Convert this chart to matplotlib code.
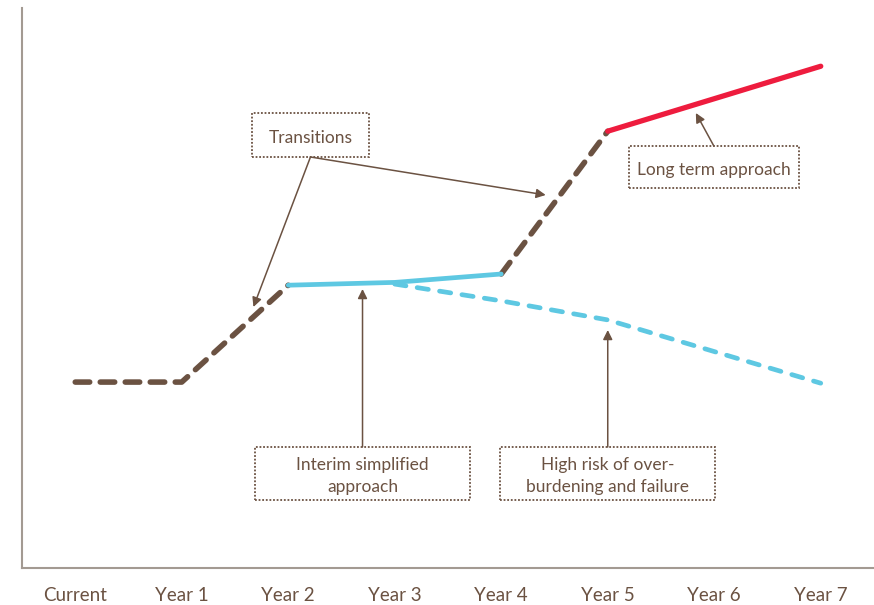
import matplotlib
matplotlib.use('Agg')
import matplotlib.pyplot as plt
from matplotlib.patches import Rectangle

brown = '#6b5242'
blue = '#5ec8e2'
red = '#ee1c3e'
spine_col = '#a39a92'

categories = ['Current', 'Year 1', 'Year 2', 'Year 3', 'Year 4', 'Year 5', 'Year 6', 'Year 7']

# transitions (brown dashed)
trans1_x = [0, 1, 2]
trans1_y = [33.2, 33.2, 50.5]
trans2_x = [4, 5]
trans2_y = [52.5, 78.0]
# interim simplified approach (blue solid)
interim_x = [2, 3, 4]
interim_y = [50.5, 51.0, 52.5]
# high risk path (blue dashed)
risk_x = [3, 4, 5, 7]
risk_y = [50.7, 47.7, 44.3, 33.0]
# long term approach (red)
long_x = [5, 7]
long_y = [78.0, 89.6]

plt.rcParams['font.family'] = ['Lato', 'DejaVu Sans']

fig = plt.figure(figsize=(8.74, 6.05), dpi=100)
ax = fig.add_axes([22 / 874, 37 / 605, 852 / 874, 560 / 605])
ax.set_xlim(-0.5, 7.5)
ax.set_ylim(0, 100)


def px(x, y):
    return ((x - 75) / 106.4, (568 - y) / 5.6)


ax.plot(trans1_x, trans1_y, color=brown, lw=4, dashes=(2.6, 1.9),
        dash_capstyle='round', solid_capstyle='round', zorder=3)
ax.plot(trans2_x, trans2_y, color=brown, lw=4, dashes=(2.6, 1.9),
        dash_capstyle='round', solid_capstyle='round', zorder=3)
ax.plot(risk_x, risk_y, color=blue, lw=3.4, dashes=(2.4, 2.4),
        dash_capstyle='round', zorder=2)
ax.plot(interim_x, interim_y, color=blue, lw=3.4, solid_capstyle='round', zorder=3)
ax.plot(long_x, long_y, color=red, lw=3.8, solid_capstyle='round', zorder=3)

# boxes: label, center x, center y, width, height (pixels)
boxes = [
    ('Transitions', 310, 135, 116, 44),
    ('Long term approach', 713, 167, 170, 42),
    ('Interim simplified\napproach', 362, 473, 215, 53),
    ('High risk of over-\nburdening and failure', 607, 473, 215, 53),
]
for label, cx, cy, w, h in boxes:
    x0, y0 = px(cx - w / 2, cy + h / 2)
    x1, y1 = px(cx + w / 2, cy - h / 2)
    ax.add_patch(Rectangle((x0, y0), x1 - x0, y1 - y0, fill=False, ec=brown,
                           lw=1.3, ls=(0, (1, 1)), zorder=4))
    ax.text(*px(cx, cy + 3), label, ha='center', va='center', fontsize=12.5,
            color=brown, linespacing=1.45, zorder=5)

# arrows: base -> tip (pixels)
arrows = [
    ((310, 157), (253, 307)),
    ((310, 157), (545, 195)),
    ((713, 146), (695, 113)),
    ((362, 447), (362, 289)),
    ((607, 447), (607, 330)),
]
for base, tip in arrows:
    ax.annotate('', xy=px(*tip), xytext=px(*base),
                arrowprops=dict(arrowstyle='-|>', color=brown, lw=1.1,
                                mutation_scale=14, shrinkA=0, shrinkB=0),
                zorder=4)

ax.set_xticks(range(len(categories)))
ax.set_xticklabels(categories, fontsize=13.5, color=brown)
ax.tick_params(axis='x', length=0, pad=14)
ax.set_yticks([])
for s in ['top', 'right']:
    ax.spines[s].set_visible(False)
for s in ['left', 'bottom']:
    ax.spines[s].set_color(spine_col)
    ax.spines[s].set_linewidth(1.5)

fig.savefig('out.png', dpi=100, facecolor='white')
